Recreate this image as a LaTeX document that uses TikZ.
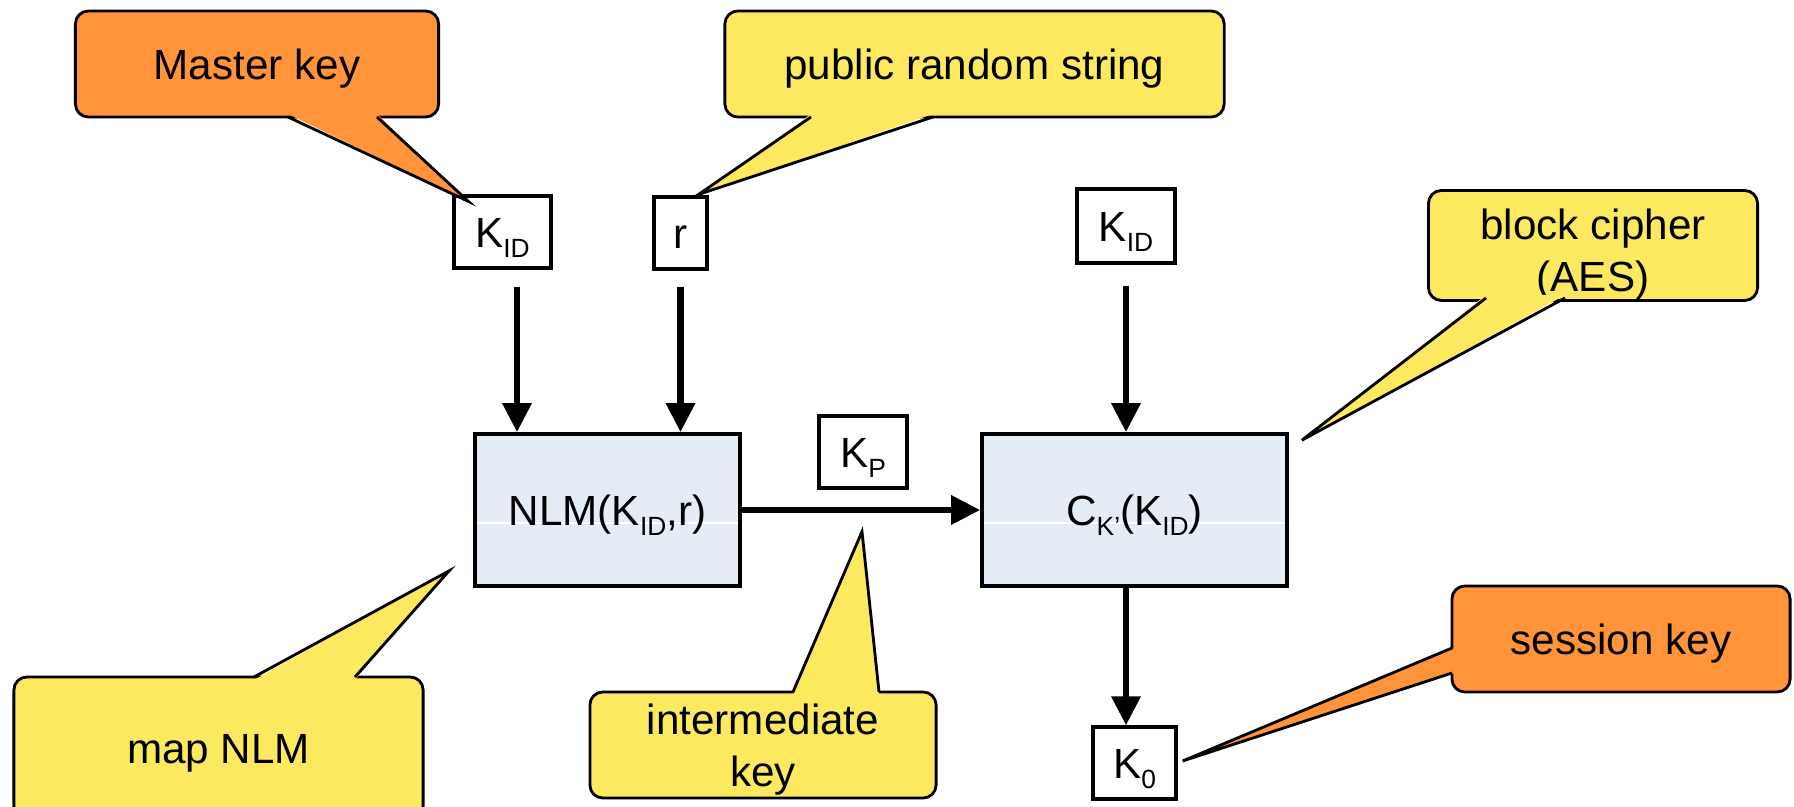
\documentclass[tikz,border=0pt]{standalone}
\usepackage{fontspec}
\setmainfont{Liberation Sans}
\usetikzlibrary{arrows.meta,positioning}
\definecolor{keyorange}{RGB}{255,148,58}
\definecolor{noteyellow}{RGB}{253,233,96}
\definecolor{boxblue}{RGB}{228,236,245}
\tikzset{
  bubble/.style={draw, line width=0.8pt, rounded corners=0.13cm, align=center, inner sep=0pt},
  oneline/.style={text height=8.6pt, text depth=0pt},
  keybox/.style={draw, line width=0.9pt, fill=white, inner sep=0pt, minimum height=0.72cm, oneline},
  fnbox/.style={
    draw, line width=1pt, fill=boxblue, inner sep=0pt, minimum height=1.52cm, oneline,
    path picture={\draw[white, line width=0.4pt]
      ([yshift=-0.13cm]path picture bounding box.west) --
      ([yshift=-0.13cm]path picture bounding box.east);}
  },
  flow/.style={-{Triangle[length=0.29cm,width=0.28cm]}, line width=1.8pt},
  tail/.style={line width=0.8pt}
}
\newcommand{\subidx}[1]{\raisebox{-0.1cm}{\fontsize{7.5}{7.5}\selectfont #1}}

\begin{document}
\begin{tikzpicture}[x=0.01cm, y=-0.01cm, font=\fontsize{12}{14.8}\selectfont]
    \clip (0,0) rectangle (1794,807);
    % inputs and outputs
    \node[keybox, minimum width=0.97cm] (kidA) at (502.5,232) {K\subidx{ID}};
    \node[keybox, minimum width=0.53cm] (r) at (680.5,233) {r};
    \node[keybox, minimum width=0.98cm, minimum height=0.74cm] (kidB) at (1126,226) {K\subidx{ID}};
    \node[keybox, minimum width=0.88cm] (kp) at (863,452) {K\subidx{P}};
    \node[keybox, minimum width=0.83cm] (k0) at (1134.5,763) {K\subidx{0}};
    % the two functions
    \node[fnbox, minimum width=2.65cm] (nlm) at (607.5,510) {NLM(K\subidx{ID},r)};
    \node[fnbox, minimum width=3.05cm] (enc) at (1134.5,510) {C\subidx{K'}(K\subidx{ID})};
    % data flow
    \coordinate (inA) at ([xshift=0.145cm]kidA.south);
    \coordinate (outC) at (kidB.south |- enc.south);
    \draw[flow, shorten <=0.17cm] (inA) -- (inA |- nlm.north);
    \draw[flow, shorten <=0.16cm] (r.south) -- (r.south |- nlm.north);
    \draw[flow, shorten <=0.21cm] (kidB.south) -- (kidB.south |- enc.north);
    \draw[flow] (nlm.east) -- (enc.west);
    \draw[flow] (outC) -- (outC |- k0.north);
    % callouts
    \node[bubble, oneline, fill=keyorange, minimum width=3.63cm, minimum height=1.06cm] (master) at (257,64) {Master key};
    \fill[keyorange] (288,114) -- ([shift={(16,7)}]kidA.north west) -- (377,114) -- cycle;
    \draw[tail] (288,117) -- ([shift={(16,7)}]kidA.north west) -- (377,117);
    \node[bubble, oneline, fill=noteyellow, minimum width=4.99cm, minimum height=1.06cm] (public) at (974.5,64) {public random string};
    \fill[noteyellow] (811,114) -- ([shift={(-10,-1)}]r.north east) -- (933,114) -- cycle;
    \draw[tail] (811,117) -- ([shift={(-10,-1)}]r.north east) -- (933,117);
    \node[bubble, fill=noteyellow, minimum width=3.29cm, minimum height=1.05cm] (cipher) at (1593,245.5) {\rule{0pt}{14pt}block cipher\\(AES)};
    \fill[noteyellow] (1486,295) -- ([shift={(13,8)}]enc.north east) -- (1565,295) -- cycle;
    \draw[tail] (1486,298) -- ([shift={(13,8)}]enc.north east) -- (1565,298);
    \node[bubble, oneline, fill=noteyellow, minimum width=4.09cm, minimum height=1.42cm] (map) at (218.5,748) {map NLM};
    \fill[noteyellow] (254,680) -- ([shift={(-24,-17)}]nlm.south west) -- (355,680) -- cycle;
    \draw[tail] (254,677) -- ([shift={(-24,-17)}]nlm.south west) -- (355,677);
    \node[bubble, fill=noteyellow, minimum width=3.46cm, minimum height=1.06cm] (inter) at (763,745) {\rule{0pt}{11.5pt}intermediate\\key};
    \fill[noteyellow] (793,695) -- ([shift={(-1,42)}]kp.south) -- (879,695) -- cycle;
    \draw[tail] (793,692) -- ([shift={(-1,42)}]kp.south) -- (879,692);
    \node[bubble, oneline, fill=keyorange, minimum width=3.38cm, minimum height=1.06cm] (session) at (1621,639) {session key};
    \fill[keyorange] (1455,648) -- ([shift={(5,-2)}]k0.east) -- (1455,673) -- cycle;
    \draw[tail] (1452,648) -- ([shift={(5,-2)}]k0.east) -- (1452,673);
\end{tikzpicture}
\end{document}
